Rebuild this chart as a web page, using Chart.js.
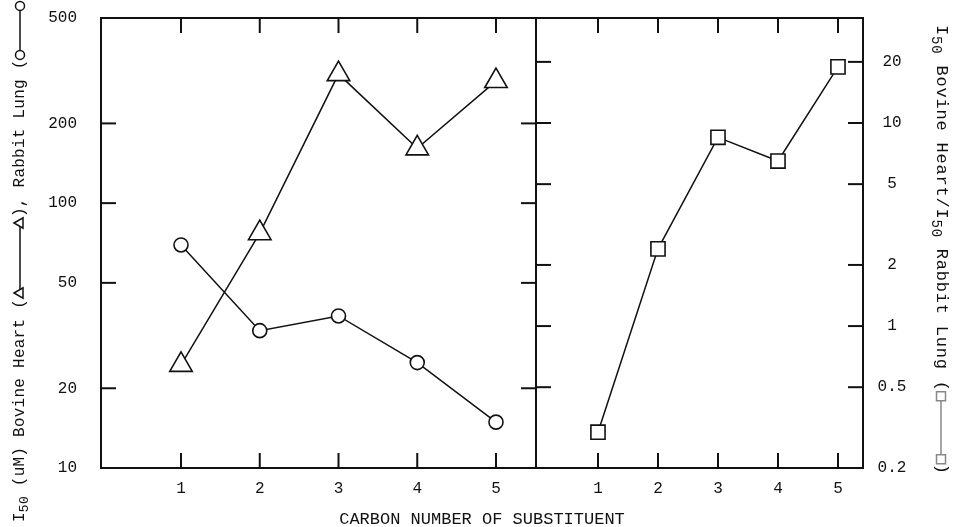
<!DOCTYPE html>
<html><head><meta charset="utf-8">
<script src="https://cdn.jsdelivr.net/npm/chart.js@4"></script>
<style>
html,body{margin:0;padding:0;background:#fff;}
#wrap{position:relative;width:955px;height:527px;background:#fff;}
canvas{position:absolute;left:0;top:0;}
</style></head><body>
<div id="wrap"><canvas id="c1" width="955" height="527"></canvas><canvas id="c2" width="955" height="527"></canvas></div>
<script>
// ---- data ----
const carbonNumbers = [1, 2, 3, 4, 5];
const bovineHeartI50 = [24.5, 77, 307, 161, 289];
const rabbitLungI50 = [69.5, 33, 37.5, 25, 14.9];
const heartLungRatio = [0.30, 2.4, 8.5, 6.5, 18.9];
const xTickValues = [1, 2, 3, 4, 5];
const leftTickValues = [10, 20, 50, 100, 200, 500];
const leftTickLabels = ['10', '20', '50', '100', '200', '500'];
const rightTickValues = [0.2, 0.5, 1, 2, 5, 10, 20];
const rightTickLabels = ['0.2', '0.5', '1', '2', '5', '10', '20'];

const INK = '#111';
const FAM = "'Liberation Mono', 'DejaVu Sans Mono', monospace";
Chart.defaults.font.family = FAM;
Chart.defaults.color = INK;

function pts(ys) { return carbonNumbers.map((x, i) => ({ x: x, y: ys[i] })); }

function line(ctx, x1, y1, x2, y2) { ctx.beginPath(); ctx.moveTo(x1, y1); ctx.lineTo(x2, y2); ctx.stroke(); }

function mark(ctx, shape, cx, cy, r) {
  ctx.beginPath();
  if (shape === 'circle') ctx.arc(cx, cy, r, 0, Math.PI * 2);
  else if (shape === 'triangle') { ctx.moveTo(cx, cy - r); ctx.lineTo(cx + r * 0.866, cy + r * 0.5); ctx.lineTo(cx - r * 0.866, cy + r * 0.5); ctx.closePath(); }
  else ctx.rect(cx - r, cy - r, 2 * r, 2 * r);
  ctx.fillStyle = '#fff'; ctx.fill(); ctx.stroke();
}

function drawRun(ctx, x, y, angle, items, size, spacing) {
  ctx.save();
  ctx.translate(x, y); ctx.rotate(angle);
  ctx.strokeStyle = INK; ctx.lineWidth = 1.5;
  ctx.textBaseline = 'middle'; ctx.textAlign = 'left';
  ctx.letterSpacing = spacing + 'px';
  let c = 0;
  for (const it of items) {
    if (it.t !== undefined) {
      ctx.fillStyle = INK;
      ctx.font = (it.sub ? Math.round(size * 0.8) : size) + 'px ' + FAM;
      ctx.fillText(it.t, c, it.sub ? size * 0.3 : 0);
      c += ctx.measureText(it.t).width;
    } else {
      ctx.strokeStyle = it.col || INK;
      line(ctx, c + it.r, 0, c + it.len - it.r, 0);
      mark(ctx, it.shape, c + it.r, 0, it.r);
      mark(ctx, it.shape, c + it.len - it.r, 0, it.r);
      ctx.strokeStyle = INK;
      c += it.len;
    }
  }
  ctx.restore();
}

function frameTicks(chart, yScale, xLen, yLen) {
  const { ctx, chartArea: a } = chart;
  ctx.save();
  ctx.strokeStyle = INK; ctx.lineWidth = 2;
  ctx.strokeRect(a.left, a.top, a.right - a.left, a.bottom - a.top);
  xTickValues.forEach(v => {
    const px = chart.scales.x.getPixelForValue(v);
    line(ctx, px, a.bottom, px, a.bottom - xLen);
    line(ctx, px, a.top, px, a.top + xLen);
  });
  yScale.ticks.forEach(t => {
    const py = yScale.getPixelForValue(t.value);
    if (py < a.top + 2 || py > a.bottom - 2) return;
    line(ctx, a.left, py, a.left + yLen, py);
    line(ctx, a.right, py, a.right - yLen, py);
  });
  ctx.restore();
}

const commonX = (min, max) => ({
  type: 'linear', min: min, max: max,
  afterBuildTicks: s => { s.ticks = xTickValues.map(v => ({ value: v })); },
  afterFit: s => { s.height = 59; s.paddingLeft = 0; s.paddingRight = 0; },
  grid: { display: false, drawTicks: false },
  border: { display: false },
  ticks: { autoSkip: false, padding: 11.4, font: { size: 16 }, color: INK, maxRotation: 0, callback: v => String(v) }
});

// ---- left panel ----
new Chart(document.getElementById('c1'), {
  type: 'line',
  data: {
    datasets: [
      { label: 'Bovine Heart', data: pts(bovineHeartI50), borderColor: INK, borderWidth: 1.5, pointStyle: 'triangle', pointRadius: 13, pointBorderWidth: 1.6, pointBackgroundColor: '#fff', pointBorderColor: INK, tension: 0 },
      { label: 'Rabbit Lung', data: pts(rabbitLungI50), borderColor: INK, borderWidth: 1.5, pointStyle: 'circle', pointRadius: 7, pointBorderWidth: 1.6, pointBackgroundColor: '#fff', pointBorderColor: INK, tension: 0 }
    ]
  },
  options: {
    responsive: false, animation: false,
    layout: { padding: { left: 0, right: 419, top: 18, bottom: 0 } },
    plugins: { legend: { display: false }, tooltip: { enabled: false } },
    scales: {
      x: commonX(-0.016, 5.508),
      y: {
        type: 'logarithmic', position: 'left', min: 10, max: 500,
        afterBuildTicks: s => { s.ticks = leftTickValues.map(v => ({ value: v })); },
        afterFit: s => { s.width = 101; s.paddingTop = 0; s.paddingBottom = 0; },
        grid: { display: false, drawTicks: false },
        border: { display: false },
        ticks: { padding: 24, font: { size: 16 }, color: INK, autoSkip: false,
          callback: (v, i) => leftTickLabels[leftTickValues.indexOf(v)] }
      }
    }
  },
  plugins: [{
    id: 'frameLeft',
    afterDraw(chart) {
      frameTicks(chart, chart.scales.y, 15, 15);
      const ctx = chart.ctx;
      drawRun(ctx, 20, 522, -Math.PI / 2, [
        { t: 'I' }, { t: '50', sub: true }, { t: ' (uM) Bovine Heart (' },
        { shape: 'triangle', r: 6, len: 82 },
        { t: '), Rabbit Lung (' },
        { shape: 'circle', r: 4.5, len: 58 }
      ], 16, 0.25);
      ctx.save();
      ctx.fillStyle = INK; ctx.font = '17px ' + FAM; ctx.textAlign = 'center'; ctx.textBaseline = 'middle';
      ctx.fillText('CARBON NUMBER OF SUBSTITUENT', 482, 519);
      ctx.restore();
    }
  }]
});

// ---- right panel ----
new Chart(document.getElementById('c2'), {
  type: 'line',
  data: {
    datasets: [
      { label: 'Ratio', data: pts(heartLungRatio), borderColor: INK, borderWidth: 1.5, pointStyle: 'rect', pointRadius: 10, pointBorderWidth: 1.6, pointBackgroundColor: '#fff', pointBorderColor: INK, tension: 0 }
    ]
  },
  options: {
    responsive: false, animation: false,
    layout: { padding: { left: 536, right: 0, top: 18, bottom: 0 } },
    plugins: { legend: { display: false }, tooltip: { enabled: false } },
    scales: {
      x: commonX(-0.033, 5.417),
      y: {
        type: 'logarithmic', position: 'right', min: 0.2, max: 32.9,
        afterBuildTicks: s => { s.ticks = rightTickValues.map(v => ({ value: v })); },
        afterFit: s => { s.width = 92; s.paddingTop = 0; s.paddingBottom = 0; },
        grid: { display: false, drawTicks: false },
        border: { display: false },
        ticks: { padding: 14.6, crossAlign: 'center', font: { size: 16 }, color: INK, autoSkip: false,
          callback: (v, i) => rightTickLabels[rightTickValues.indexOf(v)] }
      }
    }
  },
  plugins: [{
    id: 'frameRight',
    afterDraw(chart) {
      frameTicks(chart, chart.scales.y, 15, 15);
      drawRun(chart.ctx, 941, 25, Math.PI / 2, [
        { t: 'I' }, { t: '50', sub: true }, { t: ' Bovine Heart/' },
        { t: 'I' }, { t: '50', sub: true }, { t: ' Rabbit Lung (' },
        { shape: 'rect', r: 4.5, len: 72, col: '#888' },
        { t: ')' }
      ], 17, 0.8);
    }
  }]
});
</script>
</body></html>
